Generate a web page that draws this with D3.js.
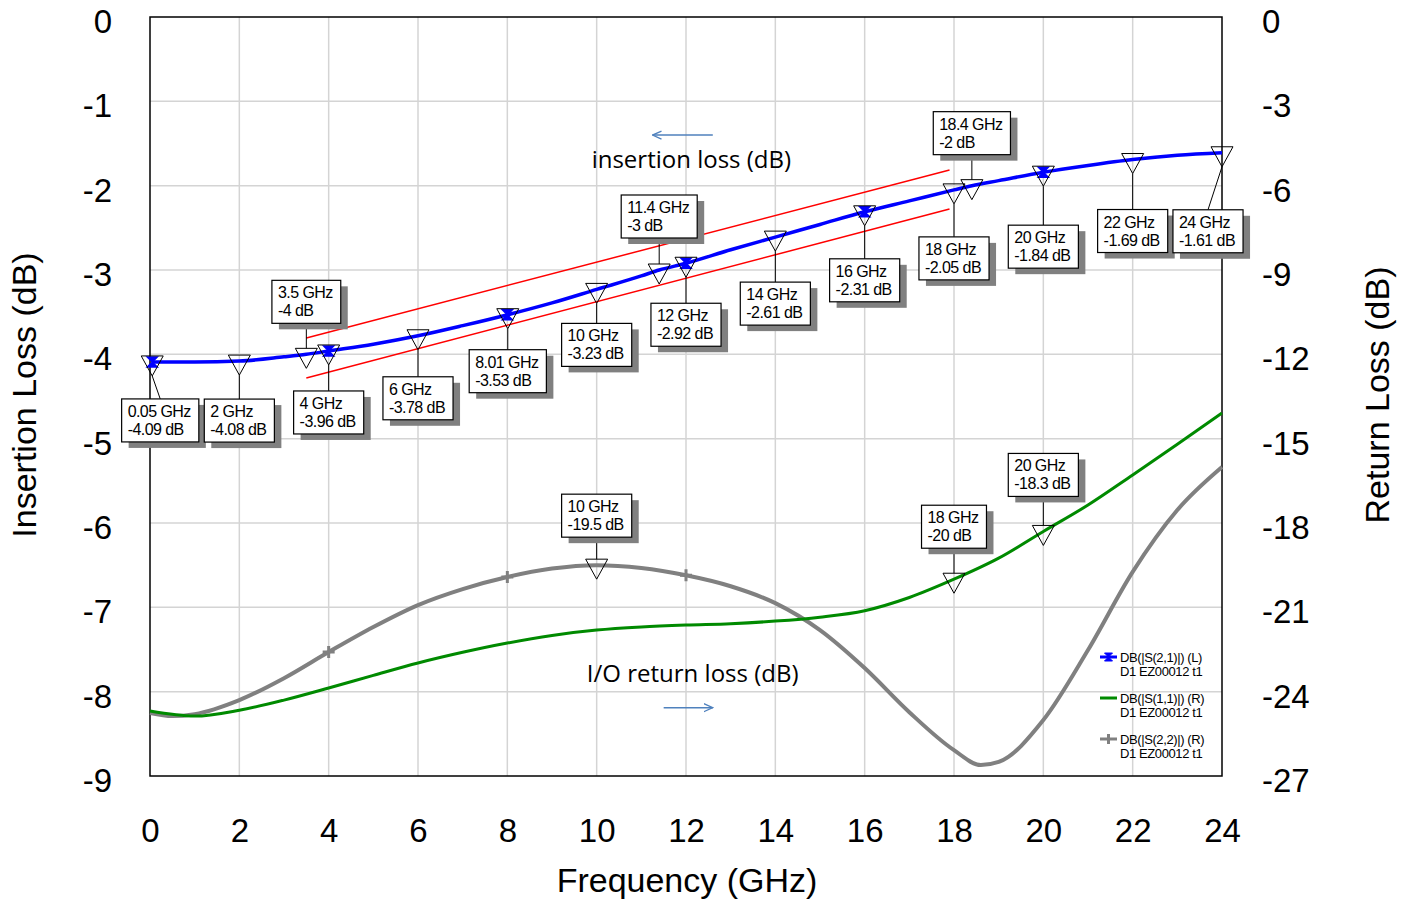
<!DOCTYPE html>
<html>
<head>
<meta charset="utf-8">
<script src="https://cdn.jsdelivr.net/npm/d3@7"></script>
<style>
  html, body { margin: 0; padding: 0; background: #fff; }
  svg { display: block; }
</style>
</head>
<body>
<svg id="chart" width="1413" height="900"></svg>
<script>
// ---------------- DATA ----------------
const xTicks = [0, 2, 4, 6, 8, 10, 12, 14, 16, 18, 20, 22, 24];
const leftTicks = [0, -1, -2, -3, -4, -5, -6, -7, -8, -9];
const rightTicks = [0, -3, -6, -9, -12, -15, -18, -21, -24, -27];

// S21 insertion loss (left axis, dB)
const s21Freq = [0.05, 1, 2, 3, 3.5, 4, 5, 6, 7, 8.01, 9, 10, 11, 11.4, 12, 13, 14, 15, 16, 17, 18, 18.4, 19, 20, 21, 22, 23, 24];
const s21Val  = [-4.09, -4.09, -4.08, -4.03, -4.0, -3.96, -3.88, -3.78, -3.66, -3.53, -3.39, -3.23, -3.07, -3.0, -2.92, -2.76, -2.61, -2.46, -2.31, -2.18, -2.05, -2.0, -1.94, -1.84, -1.76, -1.69, -1.64, -1.61];

// S11 return loss (right axis, dB)
const s11Freq = [0, 1, 2, 3, 4, 5, 6, 7, 8, 9, 10, 11, 12, 13, 14, 15, 16, 17, 18, 19, 20, 21, 22, 23, 24];
const s11Val  = [-24.69, -24.87, -24.66, -24.3, -23.87, -23.42, -22.98, -22.6, -22.27, -22.0, -21.81, -21.7, -21.63, -21.58, -21.49, -21.35, -21.12, -20.65, -20.0, -19.25, -18.3, -17.36, -16.29, -15.2, -14.09];

// S22 return loss (right axis, dB)
const s22Freq = [0, 0.5, 1, 2, 3, 4, 5, 6, 7, 8, 9, 10, 11, 12, 13, 14, 15, 16, 17, 18, 18.6, 19, 20, 21, 22, 23, 24];
const s22Val  = [-24.76, -24.87, -24.8, -24.3, -23.52, -22.59, -21.7, -20.92, -20.35, -19.92, -19.62, -19.5, -19.6, -19.86, -20.25, -20.85, -21.81, -23.16, -24.73, -26.08, -26.61, -26.5, -25.01, -22.52, -19.74, -17.54, -16.01];

// Marker readouts
const ilMarkerFreq  = [0.05, 2, 3.5, 4, 6, 8.01, 10, 11.4, 12, 14, 16, 18, 18.4, 20, 22, 24];
const ilMarkerVal   = [-4.09, -4.08, -4, -3.96, -3.78, -3.53, -3.23, -3, -2.92, -2.61, -2.31, -2.05, -2, -1.84, -1.69, -1.61];
const rlMarkerFreq  = [10, 18, 20];
const rlMarkerVal   = [-19.5, -20, -18.3];

// Symbol positions on traces
const s21SymbolFreq = [0.05, 4, 8, 12, 16, 20];
const s22SymbolFreq = [4, 8, 12];

// Red guide lines (left axis)
const guideLines = [
  { f0: 3.5, v0: -3.806, f1: 17.9, v1: -1.814 },
  { f0: 3.5, v0: -4.28,  f1: 17.9, v1: -2.277 }
];

// Legend entries
const legendNames = ["DB(|S(2,1)|) (L)", "DB(|S(1,1)|) (R)", "DB(|S(2,2)|) (R)"];
const legendSub = "D1 EZ00012 t1";

// ---------------- LAYOUT (label placement, px offsets) ----------------
const ilLabelLayout = [
  {dx: 8, dy: 37}, {dx: 0, dy: 38}, {dx: 0, dy: -31}, {dx: 0, dy: 40},
  {dx: 0, dy: 41}, {dx: 0, dy: 35}, {dx: 0, dy: 34}, {dx: 0, dy: -32},
  {dx: 0, dy: 40}, {dx: 0, dy: 45}, {dx: 0, dy: 47}, {dx: 0, dy: 47},
  {dx: 0, dy: -31}, {dx: 0, dy: 53}, {dx: 0, dy: 50}, {dx: -14, dy: 57}
];
const rlLabelLayout = [{dx: 0, dy: -28}, {dx: 0, dy: -31}, {dx: 0, dy: -35}];

// ---------------- CHART ----------------
const svg = d3.select("#chart");
const M = { left: 150, right: 1222, top: 17, bottom: 776 };
const x = d3.scaleLinear().domain([0, 24]).range([M.left, M.right]);
const yL = d3.scaleLinear().domain([-9, 0]).range([M.bottom, M.top]);
const yR = d3.scaleLinear().domain([-27, 0]).range([M.bottom, M.top]);

const FONT = "'Liberation Sans', Arial, sans-serif";
const fmt = d => String(d);

// gridlines
const grid = svg.append("g");
grid.selectAll("line.v").data(xTicks.slice(1, -1)).join("line")
  .attr("x1", d => x(d)).attr("x2", d => x(d))
  .attr("y1", M.top).attr("y2", M.bottom)
  .attr("stroke", "#d4d4d4").attr("stroke-width", 1.5);
grid.selectAll("line.h").data(leftTicks.slice(1, -1)).join("line")
  .attr("y1", d => yL(d)).attr("y2", d => yL(d))
  .attr("x1", M.left).attr("x2", M.right)
  .attr("stroke", "#d4d4d4").attr("stroke-width", 1.5);

// frame
svg.append("rect").attr("x", M.left).attr("y", M.top)
  .attr("width", M.right - M.left).attr("height", M.bottom - M.top)
  .attr("fill", "none").attr("stroke", "#000").attr("stroke-width", 1.5);

// axes
function styleAxis(g) {
  g.select(".domain").remove();
  g.selectAll(".tick line").remove();
  g.selectAll("text").attr("font-family", FONT).attr("font-size", 33).attr("fill", "#000");
}
svg.append("g").attr("transform", `translate(${M.left},0)`)
  .call(d3.axisLeft(yL).tickValues(leftTicks).tickFormat(fmt).tickSize(0).tickPadding(38))
  .call(styleAxis)
  .selectAll("text").attr("dy", "0.47em");
svg.append("g").attr("transform", `translate(${M.right},0)`)
  .call(d3.axisRight(yR).tickValues(rightTicks).tickFormat(fmt).tickSize(0).tickPadding(40))
  .call(styleAxis)
  .selectAll("text").attr("dy", "0.47em");
svg.append("g").attr("transform", `translate(0,${M.bottom})`)
  .call(d3.axisBottom(x).tickValues(xTicks).tickFormat(fmt).tickSize(0).tickPadding(43))
  .call(styleAxis);

// axis titles
svg.append("text").attr("transform", `translate(36,395) rotate(-90)`)
  .attr("text-anchor", "middle").attr("font-family", FONT).attr("font-size", 34)
  .text("Insertion Loss (dB)");
svg.append("text").attr("transform", `translate(1389,395) rotate(-90)`)
  .attr("text-anchor", "middle").attr("font-family", FONT).attr("font-size", 34)
  .text("Return Loss (dB)");
svg.append("text").attr("x", 687).attr("y", 892)
  .attr("text-anchor", "middle").attr("font-family", FONT).attr("font-size", 34)
  .text("Frequency (GHz)");

// traces
const plot = svg.append("g");
const lineL = d3.line().x(d => x(d[0])).y(d => yL(d[1])).curve(d3.curveMonotoneX);
const lineR = d3.line().x(d => x(d[0])).y(d => yR(d[1])).curve(d3.curveMonotoneX);
const s21 = s21Freq.map((f, i) => [f, s21Val[i]]);
const s11 = s11Freq.map((f, i) => [f, s11Val[i]]);
const s22 = s22Freq.map((f, i) => [f, s22Val[i]]);

plot.append("path").attr("d", lineR(s22)).attr("fill", "none")
  .attr("stroke", "#808080").attr("stroke-width", 4);
plot.append("path").attr("d", lineR(s11)).attr("fill", "none")
  .attr("stroke", "#008a00").attr("stroke-width", 3);
plot.append("path").attr("d", lineL(s21)).attr("fill", "none")
  .attr("stroke", "#0000ff").attr("stroke-width", 3.5);

const interp = (fs, vs) => f => {
  for (let i = 1; i < fs.length; i++) {
    if (f <= fs[i]) { const t = (f - fs[i-1]) / (fs[i] - fs[i-1]); return vs[i-1] + t * (vs[i] - vs[i-1]); }
  }
  return vs[vs.length - 1];
};
const s21At = interp(s21Freq, s21Val);
const s22At = interp(s22Freq, s22Val);

// trace symbols
const bowtie = "M-5,-5 L5,-5 L-5,5 L5,5 Z";
plot.selectAll("path.s21sym").data(s21SymbolFreq).join("path")
  .attr("d", bowtie).attr("transform", d => `translate(${x(d)},${yL(s21At(d))})`)
  .attr("fill", "#0000ff").attr("stroke", "#0000ff").attr("stroke-width", 1.5);
plot.selectAll("path.s22sym").data(s22SymbolFreq).join("path")
  .attr("d", "M-6,0 L6,0 M0,-6 L0,6").attr("transform", d => `translate(${x(d)},${yR(s22At(d))})`)
  .attr("stroke", "#808080").attr("stroke-width", 3).attr("fill", "none");

// guide lines
plot.selectAll("line.guide").data(guideLines).join("line")
  .attr("x1", d => x(d.f0)).attr("y1", d => yL(d.v0))
  .attr("x2", d => x(d.f1)).attr("y2", d => yL(d.v1))
  .attr("stroke", "#ff0000").attr("stroke-width", 1.5);

// markers and readout labels
const markers = [];
ilMarkerFreq.forEach((f, i) => markers.push({ f, v: ilMarkerVal[i], px: x(f), py: yL(ilMarkerVal[i]), lay: ilLabelLayout[i] }));
rlMarkerFreq.forEach((f, i) => markers.push({ f, v: rlMarkerVal[i], px: x(f), py: yR(rlMarkerVal[i]), lay: rlLabelLayout[i] }));

const mk = svg.append("g");
const LBL_FONT = 16, LS = -0.55, BOX_H = 43, PAD = 6;
markers.forEach(m => {
  const g = mk.append("g");
  g.append("path")
    .attr("d", `M${m.px - 11},${m.py - 6} L${m.px + 11},${m.py - 6} L${m.px},${m.py + 14} Z`)
    .attr("fill", "none").attr("stroke", "#000").attr("stroke-width", 1);
  const l1 = `${m.f} GHz`, l2 = `${m.v} dB`;
  const w1 = g.append("text").attr("font-family", FONT).attr("font-size", LBL_FONT).attr("letter-spacing", LS).text(l1);
  const w2 = g.append("text").attr("font-family", FONT).attr("font-size", LBL_FONT).attr("letter-spacing", LS).text(l2);
  const tw = Math.max(w1.node().getComputedTextLength(), w2.node().getComputedTextLength());
  w1.remove(); w2.remove();
  const bw = tw + 2 * PAD + 2;
  const cx = m.px + m.lay.dx;
  const above = m.lay.dy < 0;
  const top = above ? m.py + m.lay.dy - BOX_H : m.py + m.lay.dy;
  const bx = cx - bw / 2;
  if (above) {
    g.append("line").attr("x1", cx).attr("y1", top + BOX_H).attr("x2", m.px).attr("y2", m.py - 6)
      .attr("stroke", "#000").attr("stroke-width", 1);
  } else {
    g.append("line").attr("x1", m.px).attr("y1", m.py + 14).attr("x2", cx).attr("y2", top)
      .attr("stroke", "#000").attr("stroke-width", 1);
  }
  g.append("rect").attr("x", bx + 7).attr("y", top + 6).attr("width", bw).attr("height", BOX_H).attr("fill", "#808080");
  g.append("rect").attr("x", bx).attr("y", top).attr("width", bw).attr("height", BOX_H)
    .attr("fill", "#fff").attr("stroke", "#000").attr("stroke-width", 1.2);
  g.append("text").attr("x", bx + PAD).attr("y", top + 18).attr("font-family", FONT).attr("font-size", LBL_FONT)
    .attr("letter-spacing", LS).text(l1);
  g.append("text").attr("x", bx + PAD).attr("y", top + 36).attr("font-family", FONT).attr("font-size", LBL_FONT)
    .attr("letter-spacing", LS).text(l2);
});

// annotations with arrows
const ann = svg.append("g");
const ARROW = "#4f81bd";
svg.append("defs").append("marker").attr("id", "ah").attr("viewBox", "0 0 10 10")
  .attr("refX", 9).attr("refY", 5).attr("markerWidth", 10).attr("markerHeight", 10)
  .attr("markerUnits", "userSpaceOnUse").attr("orient", "auto")
  .append("path").attr("d", "M0,1 L9,5 L0,9").attr("fill", "none").attr("stroke", ARROW).attr("stroke-width", 1.3);
ann.append("line").attr("x1", x(12.6)).attr("y1", yL(-1.4)).attr("x2", x(11.25)).attr("y2", yL(-1.4))
  .attr("stroke", ARROW).attr("stroke-width", 1.4).attr("marker-end", "url(#ah)");
ann.append("text").attr("x", x(12.12)).attr("y", yL(-1.79)).attr("text-anchor", "middle")
  .attr("font-family", "'Open Sans', sans-serif").attr("font-size", 24).text("insertion loss (dB)");
ann.append("line").attr("x1", x(11.5)).attr("y1", yL(-8.19)).attr("x2", x(12.6)).attr("y2", yL(-8.19))
  .attr("stroke", ARROW).attr("stroke-width", 1.4).attr("marker-end", "url(#ah)");
ann.append("text").attr("x", x(12.15)).attr("y", yL(-7.88)).attr("text-anchor", "middle")
  .attr("font-family", "'Open Sans', sans-serif").attr("font-size", 24).text("I/O return loss (dB)");

// legend
const lg = svg.append("g");
const legColors = ["#0000ff", "#008a00", "#808080"];
const legY = [657, 698, 739];
legendNames.forEach((name, i) => {
  lg.append("line").attr("x1", 1100).attr("x2", 1117).attr("y1", legY[i]).attr("y2", legY[i])
    .attr("stroke", legColors[i]).attr("stroke-width", 3);
  if (i === 0) lg.append("path").attr("d", "M-4,-4 L4,-4 L-4,4 L4,4 Z").attr("transform", `translate(1108.5,${legY[i]})`)
    .attr("fill", legColors[i]).attr("stroke", legColors[i]);
  if (i === 2) lg.append("path").attr("d", "M0,-5 L0,5").attr("transform", `translate(1108.5,${legY[i]})`)
    .attr("stroke", legColors[i]).attr("stroke-width", 3);
  lg.append("text").attr("x", 1120).attr("y", legY[i] + 5).attr("font-family", FONT).attr("font-size", 13)
    .attr("letter-spacing", -0.4).text(name);
  lg.append("text").attr("x", 1120).attr("y", legY[i] + 19).attr("font-family", FONT).attr("font-size", 13)
    .attr("letter-spacing", -0.4).text(legendSub);
});
</script>
</body>
</html>
